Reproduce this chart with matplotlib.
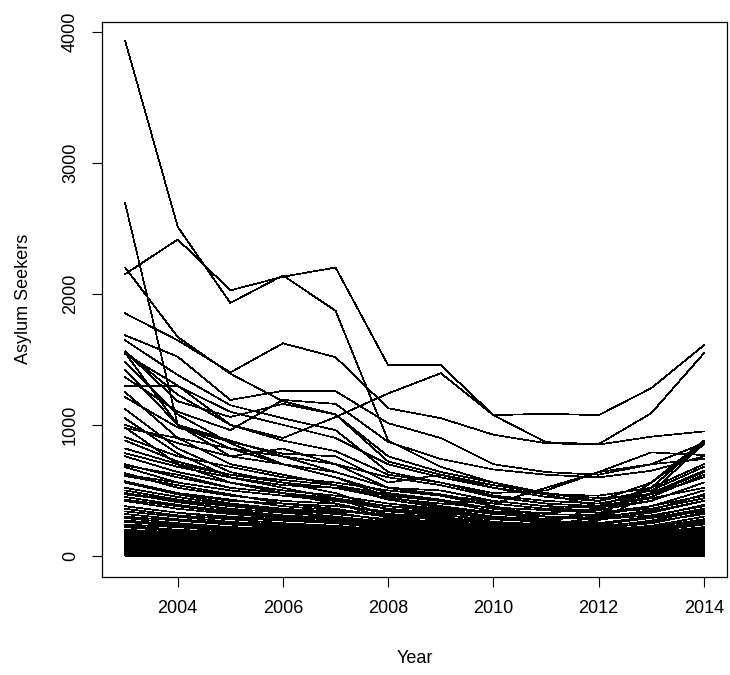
import numpy as np
import matplotlib
matplotlib.use('Agg')
import matplotlib.pyplot as plt

years = [2003, 2004, 2005, 2006, 2007, 2008, 2009, 2010, 2011, 2012, 2013, 2014]

# the big ones
upper_lines = [
    [3930, 2510, 1930, 2140, 1870, 880, 680, 560, 470, 380, 450, 620],
    [2150, 2414, 2026, 2130, 2200, 1455, 1455, 1074, 1085, 1074, 1280, 1607],
    [2690, 1000, 880, 760, 640, 520, 460, 380, 300, 280, 330, 420],
    [2200, 1670, 1390, 1180, 1080, 760, 640, 560, 480, 420, 560, 880],
    [1850, 1645, 1400, 1622, 1516, 1127, 1051, 925, 860, 850, 910, 950],
    [1683, 1520, 1190, 1260, 1257, 1013, 900, 700, 640, 620, 700, 860],
    [1560, 1230, 1000, 900, 1060, 1240, 1394, 1074, 868, 853, 1089, 1546],
    [1560, 1180, 1060, 1160, 1080, 720, 620, 520, 470, 460, 520, 700],
    [1540, 1300, 1000, 880, 800, 620, 560, 460, 420, 400, 470, 640],
    [1295, 1295, 1100, 1000, 900, 700, 600, 520, 450, 420, 500, 680],
    [1363, 1100, 960, 1190, 1160, 870, 740, 660, 620, 600, 650, 760],
    [1645, 1380, 1150, 1050, 960, 640, 560, 480, 500, 640, 700, 740],
    [1211, 980, 870, 780, 760, 560, 620, 540, 480, 440, 470, 600],
    [1550, 1000, 760, 820, 700, 520, 500, 420, 380, 370, 420, 560],
]

mid_lines = [
    [1000, 860, 760, 700, 640, 520, 470, 400, 360, 350, 420, 560],
    [975, 900, 820, 760, 700, 600, 540, 450, 400, 380, 440, 520],
    [1480, 1080, 860, 700, 600, 480, 430, 360, 320, 310, 380, 500],
    [906, 760, 680, 600, 560, 500, 460, 420, 380, 330, 360, 440],
    [880, 720, 620, 580, 540, 470, 420, 340, 300, 290, 350, 470],
    [1420, 1000, 820, 700, 600, 450, 380, 330, 280, 300, 340, 420],
    [784, 680, 600, 540, 520, 440, 400, 370, 350, 330, 380, 460],
    [760, 640, 560, 500, 460, 400, 360, 300, 270, 250, 300, 390],
    [1250, 900, 700, 620, 540, 430, 370, 320, 300, 280, 310, 380],
    [690, 620, 520, 480, 440, 380, 350, 300, 260, 240, 290, 360],
    [678, 560, 500, 460, 420, 360, 330, 290, 250, 230, 260, 320],
    [1120, 820, 640, 560, 480, 350, 320, 260, 240, 220, 270, 350],
    [632, 520, 460, 420, 400, 320, 300, 250, 230, 210, 250, 330],
    [610, 540, 470, 400, 380, 340, 310, 280, 260, 250, 290, 340],
    [1050, 780, 600, 520, 440, 310, 290, 240, 220, 200, 230, 300],
    [570, 480, 430, 380, 350, 300, 280, 250, 210, 190, 220, 280],
    [560, 470, 400, 360, 340, 320, 270, 230, 200, 180, 210, 260],
    [980, 700, 560, 480, 400, 290, 260, 220, 200, 190, 230, 270],
    [520, 450, 390, 350, 320, 280, 250, 210, 190, 170, 200, 250],
    [500, 430, 380, 360, 330, 270, 240, 200, 180, 160, 190, 240],
    [480, 410, 360, 330, 300, 260, 230, 200, 170, 160, 180, 220],
    [470, 420, 350, 310, 290, 250, 220, 190, 160, 150, 170, 210],
    [450, 390, 340, 300, 280, 240, 210, 180, 160, 140, 160, 200],
    [430, 380, 330, 310, 270, 230, 200, 170, 150, 140, 150, 190],
    [420, 360, 320, 290, 260, 220, 200, 160, 140, 130, 150, 180],
]

# lines that climb again towards 2014
rising_lines = [
    [700, 600, 520, 480, 420, 380, 340, 300, 280, 320, 520, 870],
    [560, 480, 420, 400, 360, 300, 280, 250, 240, 270, 480, 860],
    [480, 420, 380, 340, 300, 260, 240, 220, 230, 300, 560, 850],
    [380, 330, 300, 280, 260, 230, 220, 200, 240, 380, 520, 700],
    [620, 560, 500, 460, 430, 380, 360, 340, 330, 360, 480, 650],
    [820, 700, 620, 560, 520, 460, 420, 400, 520, 640, 790, 770],
]

low_lines = [
    [380, 330, 290, 270, 250, 210, 190, 160, 140, 120, 140, 170],
    [360, 310, 280, 250, 230, 200, 180, 150, 130, 120, 130, 160],
    [340, 300, 260, 240, 220, 190, 170, 140, 120, 110, 130, 150],
    [320, 280, 250, 230, 210, 180, 160, 140, 120, 100, 120, 150],
    [300, 270, 240, 220, 200, 170, 150, 130, 110, 100, 110, 140],
    [290, 250, 220, 210, 190, 160, 150, 120, 100, 90, 110, 130],
    [270, 240, 210, 200, 180, 160, 140, 120, 100, 90, 100, 120],
    [260, 230, 200, 190, 170, 150, 130, 110, 90, 80, 100, 120],
    [240, 220, 190, 180, 170, 140, 120, 100, 90, 80, 90, 110],
    [230, 200, 180, 170, 160, 130, 120, 100, 80, 70, 90, 100],
    [220, 190, 170, 160, 150, 130, 110, 90, 80, 70, 80, 100],
    [200, 180, 160, 150, 140, 120, 100, 90, 70, 60, 80, 90],
    [190, 170, 150, 140, 130, 110, 100, 80, 70, 60, 70, 90],
    [180, 160, 140, 130, 120, 100, 90, 80, 60, 50, 60, 80],
    [170, 150, 130, 120, 110, 100, 80, 70, 60, 50, 60, 70],
    [160, 140, 130, 120, 100, 90, 80, 60, 50, 40, 50, 70],
    [150, 130, 120, 110, 100, 80, 70, 60, 50, 40, 50, 60],
    [140, 130, 110, 100, 90, 80, 70, 50, 40, 40, 40, 60],
    [130, 120, 100, 90, 80, 70, 60, 50, 40, 30, 40, 50],
    [120, 110, 100, 90, 80, 70, 60, 40, 30, 30, 40, 50],
    [110, 100, 90, 80, 70, 60, 50, 40, 30, 20, 30, 40],
    [100, 90, 80, 70, 70, 60, 50, 40, 30, 20, 30, 40],
    [90, 80, 70, 70, 60, 50, 40, 30, 20, 20, 20, 30],
    [80, 70, 60, 60, 50, 40, 40, 30, 20, 10, 20, 30],
    [70, 60, 60, 50, 40, 40, 30, 20, 20, 10, 20, 20],
    [60, 50, 50, 40, 40, 30, 30, 20, 10, 10, 10, 20],
    [50, 40, 40, 40, 30, 30, 20, 20, 10, 10, 10, 10],
    [40, 30, 30, 30, 20, 20, 20, 10, 10, 10, 10, 10],
    [30, 30, 20, 20, 20, 10, 10, 10, 10, 0, 10, 10],
    [20, 20, 10, 10, 10, 10, 10, 10, 0, 0, 0, 10],
    [10, 10, 10, 10, 0, 0, 0, 0, 0, 0, 0, 0],
    [0, 0, 0, 0, 0, 0, 0, 0, 0, 0, 0, 0],
]

# small countries that stay roughly flat
flat_lines = [
    [150, 120, 140, 130, 150, 140, 130, 150, 140, 130, 150, 140],
    [125, 140, 115, 135, 120, 130, 140, 125, 135, 140, 125, 130],
    [105, 95, 110, 100, 115, 105, 110, 120, 115, 105, 110, 120],
    [85, 90, 80, 95, 90, 85, 95, 100, 90, 95, 100, 105],
    [65, 70, 75, 65, 70, 75, 80, 70, 75, 80, 70, 85],
    [45, 50, 55, 50, 45, 55, 60, 55, 60, 65, 55, 60],
    [25, 30, 35, 30, 25, 35, 40, 35, 40, 45, 35, 40],
    [5, 10, 15, 10, 5, 15, 20, 15, 20, 25, 15, 20],
]

plt.rcParams['font.family'] = ['Liberation Sans', 'DejaVu Sans']

fig = plt.figure(figsize=(7.3, 6.75), dpi=100)
ax = fig.add_axes([0.1397, 0.1452, 0.8562, 0.8227])

for group in [upper_lines, mid_lines, rising_lines, low_lines, flat_lines]:
    for vals in group:
        ax.plot(years, vals, color='black', lw=0.5, antialiased=False)

ax.set_xlim(2002.56, 2014.44)
ax.set_ylim(-160, 4075)
ax.set_xticks([2004, 2006, 2008, 2010, 2012, 2014])
ax.set_yticks([0, 1000, 2000, 3000, 4000])
ax.set_yticklabels(['0', '1000', '2000', '3000', '4000'], rotation=90, va='center')
ax.tick_params(direction='out', length=7, width=0.8, labelsize=13, pad=9.5)
for sp in ax.spines.values():
    sp.set_linewidth(0.9)

ax.set_xlabel('Year', fontsize=13, labelpad=24)
ax.set_ylabel('Asylum Seekers', fontsize=13, labelpad=22)

fig.savefig('out.png', dpi=100)
